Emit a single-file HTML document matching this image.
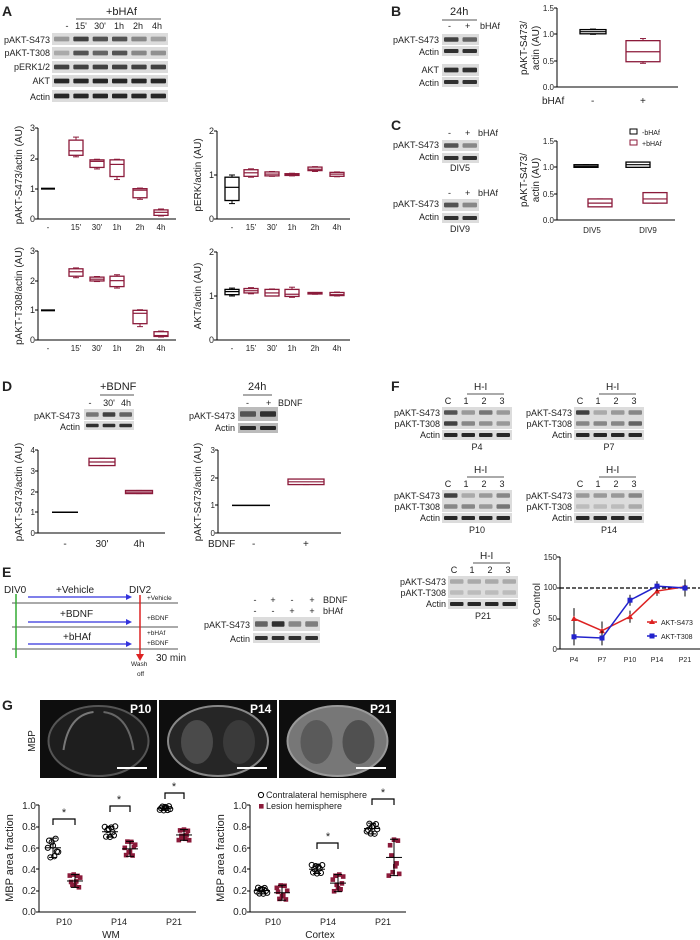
<!DOCTYPE html>
<html><head><meta charset="utf-8"><style>
body{margin:0;background:#fff}
svg{display:block;font-family:"Liberation Sans",sans-serif}
text{fill:#222}
.s{font-size:9px}.m{font-size:10px}.l{font-size:11px}
.b{font-weight:bold;font-size:14px}
</style></head><body>
<svg id="g" width="700" height="940" viewBox="0 0 700 940" xmlns="http://www.w3.org/2000/svg">
<g id="dyn"></g>
<!-- Panel A -->
<text x="2" y="16" class="b">A</text>
<text x="106" y="15" class="l">+bHAf</text>
<line x1="76" y1="19" x2="161" y2="19" stroke="#555"/>
<text y="29" class="s" text-anchor="middle"><tspan x="67">-</tspan><tspan x="81">15'</tspan><tspan x="100">30'</tspan><tspan x="119">1h</tspan><tspan x="138">2h</tspan><tspan x="157">4h</tspan></text>
<g class="s" text-anchor="end"><text x="50" y="43">pAKT-S473</text><text x="50" y="56">pAKT-T308</text><text x="50" y="70">pERK1/2</text><text x="50" y="84">AKT</text><text x="50" y="100">Actin</text></g>
<text transform="translate(22,175) rotate(-90)" class="m" text-anchor="middle">pAKT-S473/actin (AU)</text>
<text transform="translate(201,175) rotate(-90)" class="m" text-anchor="middle">pERK/actin (AU)</text>
<text transform="translate(22,296) rotate(-90)" class="m" text-anchor="middle">pAKT-T308/actin (AU)</text>
<text transform="translate(201,296) rotate(-90)" class="m" text-anchor="middle">AKT/actin (AU)</text>
<g class="s" text-anchor="end"><text x="35" y="131">3</text><text x="35" y="161">2</text><text x="35" y="192">1</text><text x="35" y="222">0</text>
<text x="214" y="134">2</text><text x="214" y="178">1</text><text x="214" y="222">0</text>
<text x="35" y="254">3</text><text x="35" y="284">2</text><text x="35" y="313">1</text><text x="35" y="343">0</text>
<text x="214" y="255">2</text><text x="214" y="299">1</text><text x="214" y="343">0</text></g>
<g class="s" text-anchor="middle" style="font-size:8px"><text y="230"><tspan x="48">-</tspan><tspan x="76">15'</tspan><tspan x="97">30'</tspan><tspan x="117">1h</tspan><tspan x="140">2h</tspan><tspan x="161">4h</tspan></text>
<text y="230"><tspan x="232">-</tspan><tspan x="251">15'</tspan><tspan x="272">30'</tspan><tspan x="292">1h</tspan><tspan x="315">2h</tspan><tspan x="337">4h</tspan></text>
<text y="351"><tspan x="48">-</tspan><tspan x="76">15'</tspan><tspan x="97">30'</tspan><tspan x="117">1h</tspan><tspan x="140">2h</tspan><tspan x="161">4h</tspan></text>
<text y="351"><tspan x="232">-</tspan><tspan x="251">15'</tspan><tspan x="272">30'</tspan><tspan x="292">1h</tspan><tspan x="315">2h</tspan><tspan x="337">4h</tspan></text></g>
<!-- Panel B -->
<text x="391" y="16" class="b">B</text>
<text x="450" y="15" class="l">24h</text>
<line x1="442" y1="20" x2="477" y2="20" stroke="#555"/>
<text y="29" class="s"><tspan x="448">-</tspan><tspan x="465">+</tspan><tspan x="480">bHAf</tspan></text>
<g class="s" text-anchor="end"><text x="439" y="43">pAKT-S473</text><text x="439" y="55">Actin</text><text x="439" y="73">AKT</text><text x="439" y="86">Actin</text></g>
<text transform="translate(527,48) rotate(-90)" class="m" text-anchor="middle">pAKT-S473/</text>
<text transform="translate(539,48) rotate(-90)" class="m" text-anchor="middle">actin (AU)</text>
<g class="s" text-anchor="end" style="font-size:8px"><text x="554" y="11">1.5</text><text x="554" y="37">1.0</text><text x="554" y="64">0.5</text><text x="554" y="90">0.0</text>
<text x="554" y="144">1.5</text><text x="554" y="170">1.0</text><text x="554" y="197">0.5</text><text x="554" y="223">0.0</text></g>
<text y="104" class="m"><tspan x="542">bHAf</tspan><tspan x="591">-</tspan><tspan x="640">+</tspan></text>
<!-- Panel C -->
<text x="391" y="130" class="b">C</text>
<text y="136" class="s"><tspan x="448">-</tspan><tspan x="465">+</tspan><tspan x="478">bHAf</tspan></text>
<g class="s" text-anchor="end"><text x="439" y="148">pAKT-S473</text><text x="439" y="160">Actin</text><text x="439" y="207">pAKT-S473</text><text x="439" y="220">Actin</text></g>
<text x="460" y="171" class="s" text-anchor="middle">DIV5</text>
<text y="196" class="s"><tspan x="448">-</tspan><tspan x="465">+</tspan><tspan x="478">bHAf</tspan></text>
<text x="460" y="232" class="s" text-anchor="middle">DIV9</text>
<text transform="translate(527,180) rotate(-90)" class="m" text-anchor="middle">pAKT-S473/</text>
<text transform="translate(539,180) rotate(-90)" class="m" text-anchor="middle">actin (AU)</text>
<text y="233" style="font-size:8px" text-anchor="middle"><tspan x="592">DIV5</tspan><tspan x="648">DIV9</tspan></text>
<rect x="630" y="129" width="7" height="5" fill="none" stroke="#000"/><text x="642" y="135" style="font-size:7px">-bHAf</text>
<rect x="630" y="140" width="7" height="5" fill="none" stroke="#8b1a3a"/><text x="642" y="146" style="font-size:7px">+bHAf</text>
<!-- Panel D -->
<text x="2" y="391" class="b">D</text>
<text x="100" y="390" class="l">+BDNF</text>
<line x1="100" y1="395" x2="134" y2="395" stroke="#555"/>
<text y="406" class="s" text-anchor="middle"><tspan x="90">-</tspan><tspan x="109">30'</tspan><tspan x="126">4h</tspan></text>
<g class="s" text-anchor="end"><text x="80" y="419">pAKT-S473</text><text x="80" y="430">Actin</text><text x="235" y="419">pAKT-S473</text><text x="235" y="431">Actin</text></g>
<text x="248" y="390" class="l">24h</text>
<line x1="243" y1="395" x2="272" y2="395" stroke="#555"/>
<text y="406" class="s"><tspan x="246">-</tspan><tspan x="266">+</tspan><tspan x="278">BDNF</tspan></text>
<text transform="translate(22,492) rotate(-90)" class="m" text-anchor="middle">pAKT-S473/actin (AU)</text>
<text transform="translate(201,492) rotate(-90)" class="m" text-anchor="middle">pAKT-S473/actin (AU)</text>
<g class="s" text-anchor="end" style="font-size:8px"><text x="35" y="453">4</text><text x="35" y="474">3</text><text x="35" y="495">2</text><text x="35" y="515">1</text><text x="35" y="536">0</text>
<text x="215" y="453">3</text><text x="215" y="481">2</text><text x="215" y="508">1</text><text x="215" y="536">0</text></g>
<text y="547" class="m" text-anchor="middle"><tspan x="65">-</tspan><tspan x="102">30'</tspan><tspan x="139">4h</tspan></text>
<text y="547" class="m"><tspan x="208">BDNF</tspan><tspan x="252">-</tspan><tspan x="303">+</tspan></text>
<!-- Panel E -->
<text x="2" y="577" class="b">E</text>
<text y="593" class="m"><tspan x="4">DIV0</tspan><tspan x="56">+Vehicle</tspan><tspan x="129">DIV2</tspan></text>
<text x="60" y="617" class="m">+BDNF</text><text x="63" y="640" class="m">+bHAf</text>
<g style="font-size:6.5px"><text x="147" y="600">+Vehicle</text><text x="147" y="620">+BDNF</text><text x="147" y="635">+bHAf</text><text x="147" y="645">+BDNF</text>
<text x="131" y="666">Wash</text><text x="137" y="676">off</text></g>
<text x="156" y="661" class="m">30 min</text>
<text y="603" class="s" text-anchor="middle"><tspan x="255">-</tspan><tspan x="273">+</tspan><tspan x="292">-</tspan><tspan x="312">+</tspan></text>
<text y="614" class="s" text-anchor="middle"><tspan x="255">-</tspan><tspan x="273">-</tspan><tspan x="292">+</tspan><tspan x="312">+</tspan></text>
<text x="323" y="603" class="s">BDNF</text><text x="323" y="614" class="s">bHAf</text>
<g class="s" text-anchor="end"><text x="250" y="628">pAKT-S473</text><text x="250" y="642">Actin</text></g>
<!-- Panel F -->
<text x="391" y="391" class="b">F</text>
<g id="ftext"></g>
<text transform="translate(540,605) rotate(-90)" class="m" text-anchor="middle">% Control</text>
<g style="font-size:8px" text-anchor="end"><text x="557" y="560">150</text><text x="557" y="590">100</text><text x="557" y="621">50</text><text x="557" y="652">0</text></g>
<text y="662" style="font-size:7px" text-anchor="middle"><tspan x="574">P4</tspan><tspan x="602">P7</tspan><tspan x="630">P10</tspan><tspan x="657">P14</tspan><tspan x="685">P21</tspan></text>
<text x="661" y="625" style="font-size:7px">AKT-S473</text><text x="661" y="639" style="font-size:7px">AKT-T308</text>
<!-- Panel G -->
<text x="2" y="710" class="b">G</text>
<text transform="translate(35,741) rotate(-90)" class="m" text-anchor="middle">MBP</text>
<g style="font-size:12px;font-weight:bold"><text x="130" y="713" style="fill:#fff">P10</text><text x="250" y="713" style="fill:#fff">P14</text><text x="370" y="713" style="fill:#fff">P21</text></g>
<text transform="translate(13,858) rotate(-90)" class="l" text-anchor="middle">MBP area fraction</text>
<text transform="translate(224,858) rotate(-90)" class="l" text-anchor="middle">MBP area fraction</text>
<g class="m" text-anchor="end"><text x="36" y="809">1.0</text><text x="36" y="830">0.8</text><text x="36" y="852">0.6</text><text x="36" y="873">0.4</text><text x="36" y="894">0.2</text><text x="36" y="915">0.0</text>
<text x="247" y="809">1.0</text><text x="247" y="830">0.8</text><text x="247" y="852">0.6</text><text x="247" y="873">0.4</text><text x="247" y="894">0.2</text><text x="247" y="915">0.0</text></g>
<text y="925" class="s" text-anchor="middle"><tspan x="64">P10</tspan><tspan x="119">P14</tspan><tspan x="174">P21</tspan><tspan x="273">P10</tspan><tspan x="328">P14</tspan><tspan x="383">P21</tspan></text>
<text x="111" y="938" class="m" text-anchor="middle">WM</text><text x="320" y="938" class="m" text-anchor="middle">Cortex</text>
<text x="266" y="798" class="s">Contralateral hemisphere</text><text x="266" y="809" class="s">Lesion hemisphere</text>
<g class="l" text-anchor="middle"><text x="64" y="816">*</text><text x="119" y="803">*</text><text x="174" y="790">*</text><text x="328" y="840">*</text><text x="383" y="796">*</text></g>
</svg>
<script>
var NS="http://www.w3.org/2000/svg",D=document.getElementById('dyn');
function el(t,a,p){var e=document.createElementNS(NS,t);for(var k in a)e.setAttribute(k,a[k]);(p||D).appendChild(e);return e}
function blot(x,y,w,h,ints,bg){el('rect',{x:x,y:y,width:w,height:h,fill:bg||'#dcdcdc'});var n=ints.length,lw=w/n;
 ints.forEach(function(v,i){var g=Math.round(205-v*175);el('rect',{x:x+i*lw+2,y:y+h*0.3,width:lw-4,height:h*0.4,fill:'rgb('+g+','+g+','+g+')',rx:1})})}
blot(52,33,116,12,[.3,.8,.7,.7,.4,.25]);blot(52,47,116,12,[.2,.7,.6,.7,.4,.35]);
blot(52,61,116,12,[.8,.8,.8,.8,.8,.8]);blot(52,75,116,12,[.95,.95,.95,.95,.95,.95]);blot(52,90,116,12,[.95,.95,.95,.95,.95,.95]);
blot(442,34,37,11,[.8,.6]);blot(442,46,37,10,[.9,.9]);blot(442,64,37,12,[.9,.9]);blot(442,77,37,10,[.9,.9]);
blot(442,140,37,11,[.7,.4]);blot(442,153,37,10,[.9,.9]);blot(442,199,37,12,[.7,.4]);blot(442,213,37,10,[.9,.9]);
blot(84,409,50,11,[.5,.8,.6]);blot(84,421,50,9,[.9,.9,.9]);blot(238,407,40,14,[.7,.9],'#bbb');blot(238,423,40,10,[.95,.95],'#bbb');
blot(253,617,67,14,[.6,.9,.4,.45]);blot(253,633,67,10,[.9,.9,.9,.9]);
[[442,407,[.7,.3,.5,.3],[.8,.4,.35,.3]],[574,407,[.8,.2,.3,.4],[.4,.4,.4,.6]],[442,490,[.8,.2,.3,.4],[.4,.4,.3,.5]],[574,490,[.3,.3,.3,.4],[.1,.1,.1,.2]],[448,576,[.2,.2,.2,.2],[.1,.1,.1,.1]]].forEach(function(b){
 blot(b[0],b[1],70,11,b[2]);blot(b[0],b[1]+11,70,11,b[3]);blot(b[0],b[1]+23,70,10,[.95,.95,.95,.95]);});
var FT=document.getElementById('ftext');
function tx(x,y,s,a){var e=el('text',a||{},FT);e.setAttribute('x',x);e.setAttribute('y',y);e.textContent=s;return e}
[[442,407,'P4'],[574,407,'P7'],[442,490,'P10'],[574,490,'P14'],[448,576,'P21']].forEach(function(b){var x=b[0],y=b[1];
 tx(x+32,y-17,'H-I',{'class':'m'});el('line',{x1:x+25,y1:y-13,x2:x+62,y2:y-13,stroke:'#555'});
 ['C','1','2','3'].forEach(function(c,i){tx(x+6+i*18,y-3,c,{'class':'s','text-anchor':'middle'})});
 tx(x-2,y+9,'pAKT-S473',{'class':'s','text-anchor':'end'});tx(x-2,y+20,'pAKT-T308',{'class':'s','text-anchor':'end'});tx(x-2,y+31,'Actin',{'class':'s','text-anchor':'end'});
 tx(x+35,y+43,b[2],{'class':'s','text-anchor':'middle'});});
function axes(x0,y0,y1,x1,ticks){el('line',{x1:x0,y1:y1,x2:x0,y2:y0,stroke:'#000'});el('line',{x1:x0,y1:y0,x2:x1,y2:y0,stroke:'#000'});
 ticks.forEach(function(t){el('line',{x1:x0-3,y1:t,x2:x0,y2:t,stroke:'#000'})})}
function box(cx,w,Y,lo,q1,md,q3,hi,c){el('line',{x1:cx,y1:Y(lo),x2:cx,y2:Y(hi),stroke:c});
 el('line',{x1:cx-3,y1:Y(lo),x2:cx+3,y2:Y(lo),stroke:c});el('line',{x1:cx-3,y1:Y(hi),x2:cx+3,y2:Y(hi),stroke:c});
 el('rect',{x:cx-w/2,y:Y(q3),width:w,height:Math.max(1.5,Y(q1)-Y(q3)),fill:'#fff',stroke:c,'stroke-width':1.3});
 el('line',{x1:cx-w/2,y1:Y(md),x2:cx+w/2,y2:Y(md),stroke:c,'stroke-width':1.2})}
var R='#8b1a3a',K='#000';
function sc(y0,y1,max){return function(v){return y0-(y0-y1)*v/max}}
var Y=sc(219,128,3);axes(38,219,128,176,[219,189,159,128]);
el('line',{x1:41,y1:Y(1),x2:55,y2:Y(1),stroke:K,'stroke-width':2});
box(76,14,Y,2.05,2.1,2.25,2.6,2.7,R);box(97,14,Y,1.65,1.7,1.9,1.95,1.97,R);box(117,14,Y,1.3,1.4,1.8,1.95,1.97,R);box(140,14,Y,.65,.7,.95,1.0,1.02,R);box(161,14,Y,.1,.12,.22,.3,.33,R);
Y=sc(219,131,2);axes(217,219,131,350,[219,175,131]);
box(232,14,Y,.35,.42,.72,.95,1.0,K);box(251,14,Y,.95,.97,1.05,1.12,1.14,R);box(272,14,Y,.97,.98,1.02,1.07,1.08,R);box(292,14,Y,.98,.99,1.01,1.03,1.04,R);box(315,14,Y,1.08,1.1,1.13,1.18,1.19,R);box(337,14,Y,.96,.97,1.02,1.06,1.07,R);
Y=sc(340,251,3);axes(38,340,251,176,[340,310,281,251]);
el('line',{x1:41,y1:Y(1),x2:55,y2:Y(1),stroke:K,'stroke-width':2});
box(76,14,Y,2.1,2.15,2.3,2.4,2.43,R);box(97,14,Y,1.97,1.99,2.05,2.12,2.14,R);box(117,14,Y,1.75,1.8,2.0,2.15,2.2,R);box(140,14,Y,.45,.55,.9,1.0,1.02,R);box(161,14,Y,.1,.12,.15,.28,.3,R);
Y=sc(340,252,2);axes(217,340,252,350,[340,296,252]);
box(232,14,Y,1.0,1.03,1.1,1.15,1.18,K);box(251,14,Y,1.05,1.07,1.12,1.17,1.19,R);box(272,14,Y,1.0,1.0,1.07,1.15,1.16,R);box(292,14,Y,.97,.99,1.04,1.15,1.2,R);box(315,14,Y,1.04,1.05,1.06,1.08,1.08,R);box(337,14,Y,1.0,1.01,1.03,1.08,1.09,R);
Y=sc(87,8,1.5);axes(557,87,8,678,[87,61,34,8]);
box(593,26,Y,1.0,1.01,1.05,1.09,1.1,K);box(643,34,Y,.45,.48,.67,.88,.92,R);
Y=sc(220,141,1.5);axes(557,220,141,675,[220,194,167,141]);
box(586,24,Y,1.0,1.0,1.02,1.05,1.05,K);box(600,24,Y,.25,.25,.32,.4,.4,R);box(638,24,Y,1.0,1.0,1.05,1.1,1.1,K);box(655,24,Y,.32,.32,.4,.52,.52,R);
Y=sc(533,450,4);axes(38,533,450,165,[533,512,492,471,450]);
el('line',{x1:52,y1:Y(1),x2:78,y2:Y(1),stroke:K,'stroke-width':1.5});
box(102,26,Y,3.25,3.25,3.42,3.6,3.6,R);box(139,27,Y,1.9,1.9,1.97,2.05,2.05,R);
Y=sc(533,450,3);axes(218,533,450,341,[533,505,478,450]);
el('line',{x1:232,y1:Y(1),x2:270,y2:Y(1),stroke:K,'stroke-width':1.5});
box(306,36,Y,1.75,1.75,1.85,1.95,1.95,R);
// E diagram
[603,627,649].forEach(function(y){el('line',{x1:12,y1:y,x2:178,y2:y,stroke:'#555'})});
el('line',{x1:16,y1:594,x2:16,y2:658,stroke:'#3a3','stroke-width':1.5});
el('line',{x1:140,y1:595,x2:140,y2:656,stroke:'#d22','stroke-width':1.5});
el('path',{d:'M136,654 L140,661 L144,654 Z',fill:'#d22'});
[597,622,644].forEach(function(y){el('line',{x1:28,y1:y,x2:128,y2:y,stroke:'#33d','stroke-width':1.3});el('path',{d:'M126,'+(y-3)+' L132,'+y+' L126,'+(y+3)+' Z',fill:'#33d'})});
// F chart
axes(560,649,557,700,[649,619,588,557]);
el('line',{x1:560,y1:588,x2:700,y2:588,stroke:'#000','stroke-dasharray':'4,2','stroke-width':1.3});
var FY=function(v){return 649-v*0.61},FX=[574,602,630,657,685];
function ser(vals,err,c,mk){var d='';vals.forEach(function(v,i){d+=(i?'L':'M')+FX[i]+','+FY(v)});el('path',{d:d,fill:'none',stroke:c,'stroke-width':1.5});
 vals.forEach(function(v,i){el('line',{x1:FX[i],y1:FY(v-err[i]),x2:FX[i],y2:FY(v+err[i]),stroke:'#000'});
 if(mk)el('rect',{x:FX[i]-2.5,y:FY(v)-2.5,width:5,height:5,fill:c});else el('path',{d:'M'+(FX[i]-3)+','+(FY(v)+2.5)+' L'+FX[i]+','+(FY(v)-3)+' L'+(FX[i]+3)+','+(FY(v)+2.5)+'Z',fill:c})})}
ser([50,30,53,95,102],[17,15,10,8,12],'#d22',0);ser([20,18,80,103,100],[14,12,9,8,14],'#22c',1);
el('line',{x1:647,y1:622,x2:657,y2:622,stroke:'#d22','stroke-width':1.5});el('path',{d:'M649,624 L652,619 L655,624Z',fill:'#d22'});
el('line',{x1:647,y1:636,x2:657,y2:636,stroke:'#22c','stroke-width':1.5});el('rect',{x:649.5,y:633.5,width:5,height:5,fill:'#22c'});
// G images
[[40,117],[159,118],[279,117]].forEach(function(b,i){el('rect',{x:b[0],y:700,width:b[1],height:78,fill:'#0e0e0e'});
 var cx=b[0]+b[1]/2;el('ellipse',{cx:cx,cy:741,rx:50,ry:35,fill:['#1e1e1e','#262626','#777'][i],stroke:['#555','#888','#999'][i],'stroke-width':2});
 if(i>0){el('ellipse',{cx:cx-21,cy:742,rx:16,ry:22,fill:i==1?'#4a4a4a':'#5a5a5a'});el('ellipse',{cx:cx+21,cy:742,rx:16,ry:22,fill:i==1?'#3a3a3a':'#505050'})}
 else{el('path',{d:'M'+(cx-35)+',750 Q'+(cx-30)+',715 '+(cx-5)+',712',fill:'none',stroke:'#777','stroke-width':2});el('path',{d:'M'+(cx+35)+',750 Q'+(cx+30)+',715 '+(cx+5)+',712',fill:'none',stroke:'#666','stroke-width':2})}
 el('line',{x1:b[0]+b[1]-40,y1:768,x2:b[0]+b[1]-10,y2:768,stroke:'#fff','stroke-width':2})});
// G scatter
function gax(x0,x1){axes(x0,912,805,x1,[912,891,869,848,827,805])}
gax(39,196);gax(250,406);
var GY=function(v){return 912-107*v};
function pts(cx,m,sd,filled,seed){for(var i=0;i<9;i++){var v=m+sd*Math.sin(seed+i*2.3),dx=((i*37)%9-4)*1.3;
 if(filled)el('rect',{x:cx+dx-2.3,y:GY(v)-2.3,width:4.6,height:4.6,fill:R});else el('circle',{cx:cx+dx,cy:GY(v),r:2.6,fill:'none',stroke:'#000'});}
 el('line',{x1:cx-8,y1:GY(m),x2:cx+8,y2:GY(m),stroke:'#000'});el('line',{x1:cx,y1:GY(m-sd),x2:cx,y2:GY(m+sd),stroke:'#000'});
 el('line',{x1:cx-4,y1:GY(m-sd),x2:cx+4,y2:GY(m-sd),stroke:'#000'});el('line',{x1:cx-4,y1:GY(m+sd),x2:cx+4,y2:GY(m+sd),stroke:'#000'})}
[[53,.6,.09,0],[75,.29,.06,1],[110,.75,.05,0],[130,.59,.07,1],[165,.97,.02,0],[184,.72,.05,1],
 [262,.2,.03,0],[282,.18,.07,1],[317,.4,.04,0],[338,.27,.08,1],[372,.78,.05,0],[394,.51,.17,1]].forEach(function(p,i){pts(p[0],p[1],p[2],p[3],i)});
function br(x1,x2,y){el('path',{d:'M'+x1+','+(y+6)+' V'+y+' H'+x2+' V'+(y+6),fill:'none',stroke:'#000','stroke-width':1.2})}
br(53,75,819);br(110,130,806);br(165,184,793);br(317,338,843);br(372,394,799);
el('circle',{cx:261,cy:795,r:2.6,fill:'none',stroke:'#000'});el('rect',{x:259,y:804,width:4.6,height:4.6,fill:R});
</script>
</body></html>
